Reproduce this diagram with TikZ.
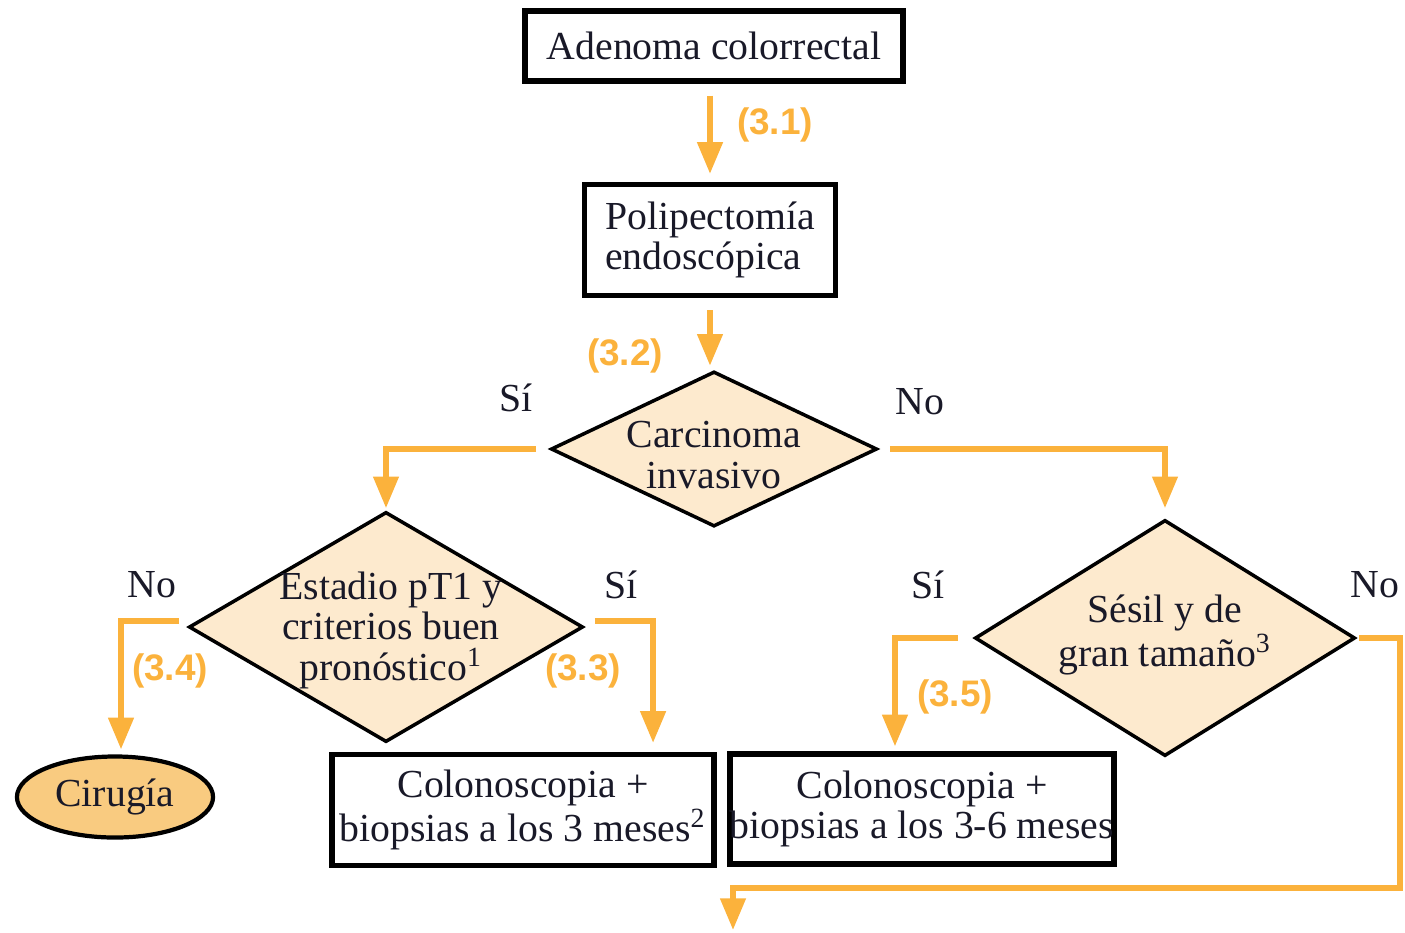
\documentclass[tikz,border=0pt]{standalone}
\usepackage{fontspec}
\setmainfont{Liberation Serif}
\newfontfamily\numfont{Liberation Sans}
\usetikzlibrary{shapes.geometric, arrows.meta, positioning}
\definecolor{flujo}{RGB}{251,178,60}
\definecolor{crema}{RGB}{253,234,206}
\definecolor{naranja}{RGB}{249,203,128}
\definecolor{tinta}{RGB}{25,25,40}

\begin{document}
\begin{tikzpicture}[x=0.01cm, y=-0.01cm,
    every node/.style={font=\fontsize{11.3}{11.5}\selectfont, text=tinta},
    caja/.style={draw=black, line width=1.5pt, rectangle, inner sep=0pt, align=center},
    decision/.style={draw=black, line width=1pt, diamond, fill=crema, inner sep=0pt},
    flecha/.style={draw=flujo, line width=1.6pt, -{Triangle[width=7pt,length=9pt]}},
    paso/.style={text=flujo, font=\numfont\bfseries\fontsize{10.5}{12}\selectfont}]
    \useasboundingbox (0,0) rectangle (1405,932);

    % cajas y decisiones
    \node[caja, minimum width=3.78cm, minimum height=0.7cm] (aden) at (714,46) {Adenoma colorrectal};
    \node[caja, minimum width=2.51cm, minimum height=1.11cm, align=left] (poli) at (710,240) {Polipectom\'ia\\endosc\'opica};
    \node[decision, minimum width=3.26cm, minimum height=1.55cm,
          label={[align=center, yshift=-0.06cm]center:{Carcinoma\\invasivo}}] (carc) at (714,449) {};
    \node[decision, minimum width=3.94cm, minimum height=2.3cm,
          label={[align=center, xshift=0.05cm, yshift=-0.03cm]center:{Estadio pT1 y\\criterios buen\\pron\'ostico\textsuperscript{1}}}] (est) at (386,627) {};
    \node[decision, minimum width=3.8cm, minimum height=2.36cm,
          label={[align=center, yshift=0.03cm]center:{S\'esil y de\\gran tama\~no\textsuperscript{3}}}] (ses) at (1165,638) {};
    \node[draw=black, line width=1.2pt, ellipse, fill=naranja, minimum width=1.96cm, minimum height=0.81cm, inner sep=0pt] (cir) at (115,797) {Cirug\'ia};
    \node[caja, minimum width=3.82cm, minimum height=1.11cm] (col1) at (523,810) {Colonoscopia +\\biopsias a los 3 meses\textsuperscript{2}};
    \node[caja, minimum width=3.81cm, minimum height=1.1cm] (col2) at (922,809) {Colonoscopia +\\biopsias a los 3-6 meses};
    \coordinate (salida) at (733,930);

    % flechas
    \draw[flecha, shorten <=0.12cm, shorten >=0.08cm] (aden.south -| poli) -- (poli.north);
    \draw[flecha, shorten <=0.12cm, shorten >=0.04cm] (poli.south) -- (carc.north -| poli);
    \draw[flecha, shorten >=0.02cm] ([xshift=-0.13cm]carc.west) -| (est.north);
    \draw[flecha, shorten >=0.1cm] ([xshift=0.11cm]carc.east) -| (ses.north);
    \draw[flecha, shorten >=0.05cm] ([xshift=-0.08cm, yshift=0.06cm]est.west) -| ([xshift=0.06cm]cir.north);
    \draw[flecha, shorten >=0.09cm] ([xshift=0.1cm, yshift=0.06cm]est.east) -| ([xshift=1.3cm]col1.north);
    \draw[flecha, shorten >=0.05cm] ([xshift=-0.15cm]ses.west) -| ([xshift=-0.27cm]col2.north);
    \draw[flecha] ([xshift=0.02cm]ses.east) -| ++(41,250) -| (salida);

    % etiquetas
    \node[paso] (p31) at (775,125) {(3.1)};
    \node[paso] (p32) at (625,356) {(3.2)};
    \node[paso] (p33) at (583,671) {(3.3)};
    \node[paso] (p34) at (170,671) {(3.4)};
    \node[paso] (p35) at (955,697) {(3.5)};
    \node (si1) at (516,398) {S\'i};
    \node (no1) at (920,402) {No};
    \node (no2) at (152,585) {No};
    \node (si2) at (621,585) {S\'i};
    \node (si3) at (928,585) {S\'i};
    \node (no3) at (1375,585) {No};
\end{tikzpicture}
\end{document}
